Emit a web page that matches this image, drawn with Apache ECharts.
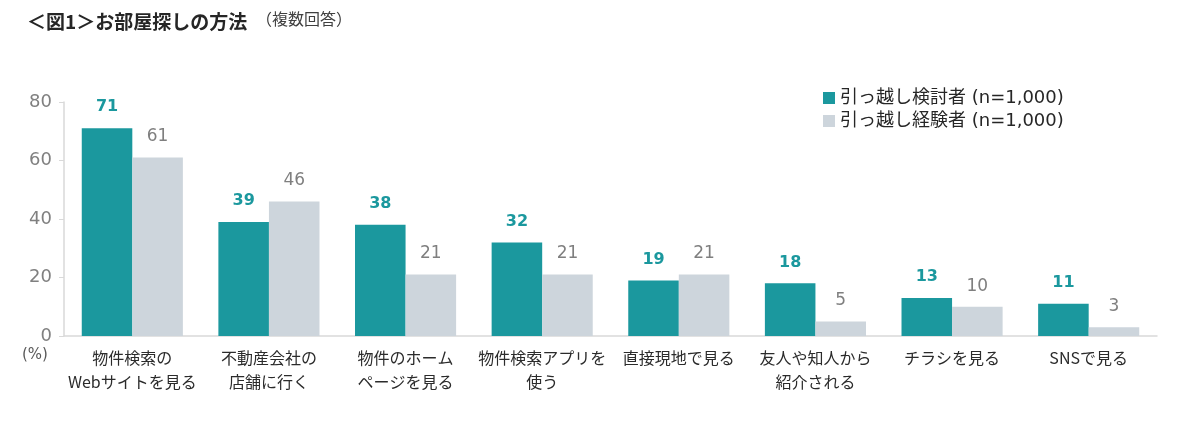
<!DOCTYPE html>
<html><head><meta charset="utf-8">
<script src="https://cdn.jsdelivr.net/npm/echarts@6/dist/echarts.min.js"></script>
<style>html,body{margin:0;padding:0;background:#fff}#c{width:1200px;height:421px}</style>
</head><body><div id="c"></div>
<script>
const categories = ["物件検索の\nWebサイトを見る","不動産会社の\n店舗に行く","物件のホーム\nページを見る","物件検索アプリを\n使う","直接現地で見る","友人や知人から\n紹介される","チラシを見る","SNSで見る"];
const considering = [71,39,38,32,19,18,13,11];
const experienced = [61,46,21,21,21,5,10,3];
const seriesNames = ["引っ越し検討者 (n=1,000)","引っ越し経験者 (n=1,000)"];
const yTicks = [0,20,40,60,80];

const jp = 'Noto Sans CJK JP';
const num = 'DejaVu Sans, Noto Sans CJK JP';
const chart = echarts.init(document.getElementById('c'), null, {renderer:'canvas'});
chart.setOption({
  animation:false,
  title:{
    text:'＜図1＞お部屋探しの方法',
    left:22, top:7,
    textStyle:{fontFamily:jp,fontSize:19,fontWeight:'bold',color:'#262626'}
  },
  graphic:[{type:'text',left:256,top:11,style:{text:'（複数回答）',fontFamily:jp,fontSize:16,fill:'#404040'}},
           {type:'text',left:22,top:348,style:{text:'(%)',fontFamily:num,fontSize:15,fill:'#595959'}}],
  legend:{
    orient:'vertical', left:818, top:84, itemWidth:12, itemHeight:12, itemGap:5,
    icon:'rect',
    textStyle:{fontFamily:num,fontSize:18,color:'#262626'},
    data:seriesNames
  },
  grid:{left:64,right:43,top:102,bottom:85,containLabel:false},
  xAxis:{
    type:'category', data:categories,
    axisLine:{lineStyle:{color:'#d9d9d9',width:1.5}},
    axisTick:{show:false},
    axisLabel:{interval:0,fontFamily:jp,fontSize:16,color:'#2b2b2b',lineHeight:24,margin:10}
  },
  yAxis:{
    type:'value', min:0, max:80, interval:20,
    axisLine:{show:true,lineStyle:{color:'#d9d9d9',width:1.5}},
    axisTick:{show:true,length:5,lineStyle:{color:'#d9d9d9'}},
    splitLine:{show:false},
    axisLabel:{fontFamily:num,fontSize:18,color:'#808080',margin:12}
  },
  series:[
    {name:seriesNames[0],type:'bar',data:considering,barGap:'0%',barCategoryGap:'26%',
     itemStyle:{color:'#1b989e'},
     label:{show:true,position:'top',distance:13,fontFamily:num,fontWeight:'bold',fontSize:16,color:'#1b989e'}},
    {name:seriesNames[1],type:'bar',data:experienced,
     itemStyle:{color:'#cdd5dc'},
     label:{show:true,position:'top',distance:12,fontFamily:num,fontSize:17,color:'#7f7f7f'}}
  ]
});
</script></body></html>
